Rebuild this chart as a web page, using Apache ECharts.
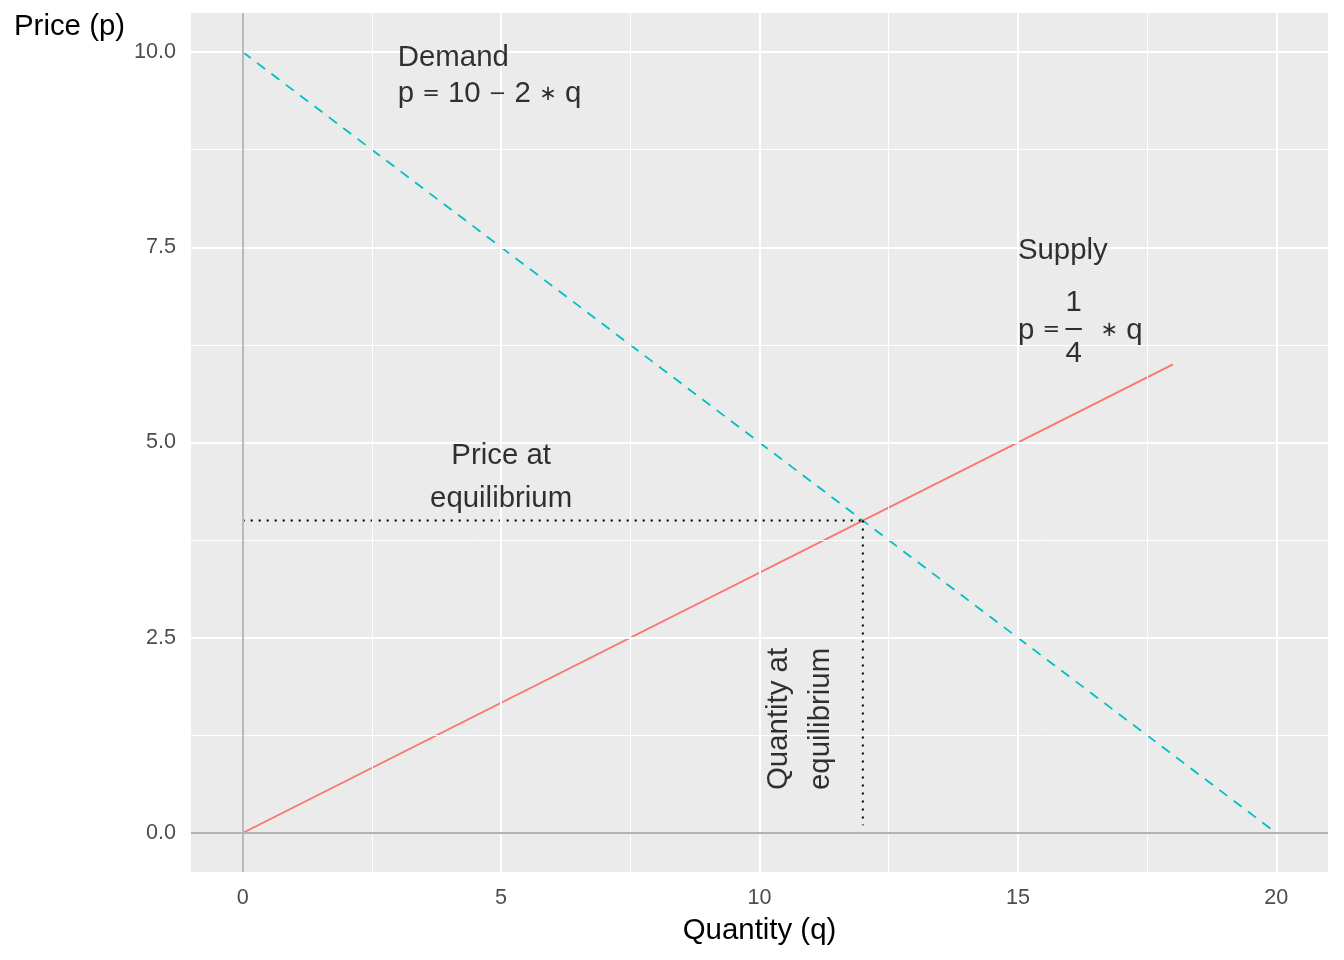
<!DOCTYPE html>
<html>
<head>
<meta charset="utf-8">
<script src="https://cdn.jsdelivr.net/npm/echarts@6/dist/echarts.min.js"></script>
<style>
  html, body { margin: 0; padding: 0; background: #fff; }
  #chart { width: 1344px; height: 960px; }
</style>
</head>
<body>
<div id="chart"></div>
<script>
// curves
const demandQ = [0, 20];
const demandP = [10, 0];
const supplyQ = [0, 18];
const supplyP = [0, 6];
// equilibrium
const eqQ = 12;
const eqP = 4;

// axes
const xTicks = [0, 5, 10, 15, 20];
const xMinor = [2.5, 7.5, 12.5, 17.5];
const yTicks = [0, 2.5, 5, 7.5, 10];
const yMinor = [1.25, 3.75, 6.25, 8.75];

// annotations: [q, p, text]  ({s|..} = small math operator)
const leftNotes = [
  [3, 9.93, "Demand"],
  [3, 9.46, "p {s|=} 10 {s|\u2212} 2 {s|\u2217} q"],
  [15, 7.45, "Supply"],
  [15, 6.43, "p {s|=}"],
  [16.6, 6.43, "{s|\u2217} q"]
];
const centerNotes = [
  [16.08, 6.79, "1"],
  [16.08, 6.46, "\u2013"],
  [16.08, 6.14, "4"],
  [5, 4.55, "Price at\nequilibrium"]
];
const rotatedNotes = [
  [10.78, 1.46, "Quantity at\nequilibrium"]
];

const FONT = "Liberation Sans";

const chart = echarts.init(document.getElementById("chart"));

const gridSeries = (axis, values, width, color, z) => ({
  type: "line",
  data: [],
  z: z,
  silent: true,
  markLine: {
    silent: true,
    symbol: "none",
    animation: false,
    label: { show: false },
    lineStyle: { color: color, width: width, type: "solid" },
    data: values.map(v => ({ [axis]: v }))
  }
});

const noteSeries = (notes, label) => ({
  type: "scatter",
  symbolSize: 0,
  z: 10,
  silent: true,
  data: notes.map(n => ({ value: [n[0], n[1]], text: n[2] })),
  label: Object.assign({
    show: true,
    formatter: p => p.data.text,
    color: "#000",
    fontFamily: FONT,
    fontSize: 29.4,
    rich: {
      s: { fontFamily: "DejaVu Sans", fontSize: 21, color: "#000", verticalAlign: "middle" }
    }
  }, label)
});

chart.setOption({
  animation: false,
  title: {
    text: "Price (p)",
    left: 14,
    top: 12,
    padding: 0,
    textStyle: { fontFamily: FONT, fontSize: 29.4, fontWeight: "normal", color: "#000" }
  },
  grid: {
    left: 191,
    right: 16,
    top: 13,
    bottom: 88,
    show: true,
    backgroundColor: "#EBEBEB",
    borderWidth: 0
  },
  xAxis: {
    type: "value",
    min: -1,
    max: 21,
    name: "Quantity (q)",
    nameLocation: "middle",
    nameGap: 44,
    nameTextStyle: { fontFamily: FONT, fontSize: 29.4, color: "#000" },
    axisLine: { show: false },
    axisTick: { show: true, customValues: xTicks, length: 5, lineStyle: { color: "#333", width: 1.5 } },
    axisLabel: { customValues: xTicks, color: "#4D4D4D", fontFamily: FONT, fontSize: 21.6, margin: 15 },
    splitLine: { show: false }
  },
  yAxis: {
    type: "value",
    min: -0.5,
    max: 10.5,
    axisLine: { show: false },
    axisTick: { show: true, customValues: yTicks, length: 5, lineStyle: { color: "#333", width: 1.5 } },
    axisLabel: {
      customValues: yTicks,
      color: "#4D4D4D",
      fontFamily: FONT,
      fontSize: 21.6,
      margin: 15,
      formatter: v => v.toFixed(1)
    },
    splitLine: { show: false }
  },
  series: [
    gridSeries("xAxis", xMinor, 1, "#FFFFFF", 1),
    gridSeries("yAxis", yMinor, 1, "#FFFFFF", 1),
    gridSeries("xAxis", xTicks, 2, "#FFFFFF", 1),
    gridSeries("yAxis", yTicks, 2, "#FFFFFF", 1),
    gridSeries("xAxis", [0], 1.8, "#B3B3B3", 1.5),
    gridSeries("yAxis", [0], 1.8, "#B3B3B3", 1.5),
    {
      name: "Supply",
      type: "line",
      symbol: "none",
      z: 3,
      lineStyle: { color: "#F8766D", width: 1.8 },
      data: supplyQ.map((q, i) => [q, supplyP[i]])
    },
    {
      name: "Demand",
      type: "line",
      symbol: "none",
      z: 3,
      lineStyle: { color: "#00BFC4", width: 1.8, type: [10, 8] },
      data: demandQ.map((q, i) => [q, demandP[i]])
    },
    {
      name: "Price at equilibrium",
      type: "line",
      symbol: "none",
      z: 4,
      lineStyle: { color: "#000", width: 2, type: [2, 6] },
      data: [[0, eqP], [eqQ, eqP]]
    },
    {
      name: "Quantity at equilibrium",
      type: "line",
      symbol: "none",
      z: 4,
      lineStyle: { color: "#000", width: 2, type: [2, 6] },
      data: [[eqQ, eqP], [eqQ, 0.1]]
    },
    noteSeries(leftNotes, { position: "inside", align: "left", verticalAlign: "middle" }),
    noteSeries(centerNotes, { position: "inside", align: "center", verticalAlign: "middle", lineHeight: 43 }),
    noteSeries(rotatedNotes, { position: "inside", align: "center", verticalAlign: "middle", rotate: 90, lineHeight: 42 })
  ]
});
</script>
</body>
</html>
